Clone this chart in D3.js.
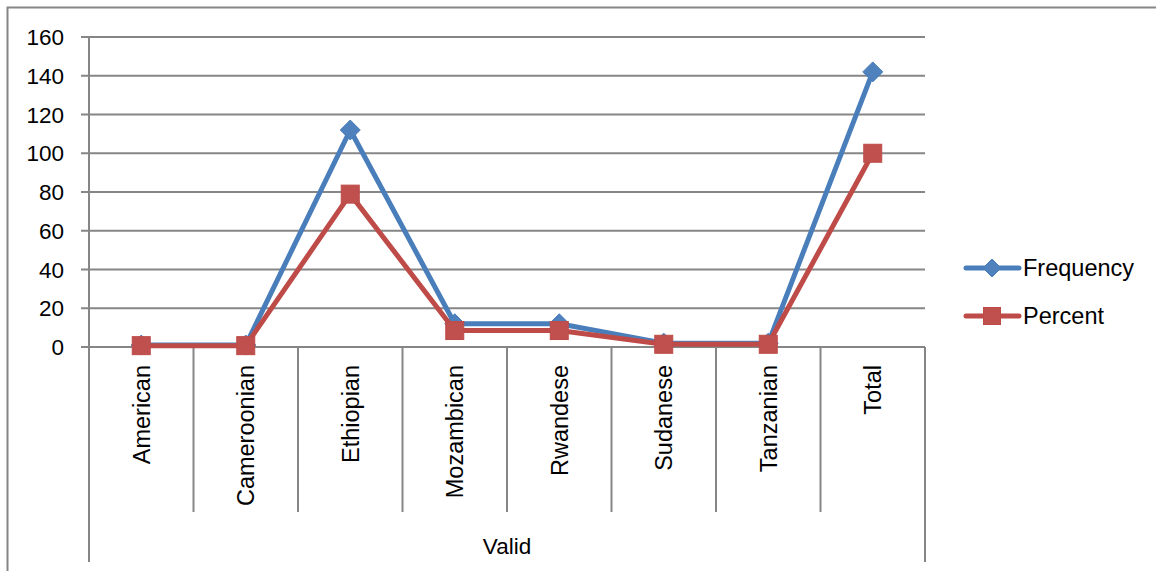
<!DOCTYPE html>
<html>
<head>
<meta charset="utf-8">
<script src="https://cdn.jsdelivr.net/npm/d3@7"></script>
<style>
  html, body { margin: 0; padding: 0; background: #fff; }
  svg { display: block; font-family: "Liberation Sans", Arial, sans-serif; }
</style>
</head>
<body>
<svg id="chart" width="1156" height="571"></svg>
<script>
// Nationality breakdown: counts and share of respondents
const categories = ["American", "Cameroonian", "Ethiopian", "Mozambican", "Rwandese", "Sudanese", "Tanzanian", "Total"];
const frequency = [1, 1, 112, 12, 12, 2, 2, 142];
const percent = [0.7, 0.7, 78.9, 8.5, 8.5, 1.4, 1.4, 100];
const yTicks = [0, 20, 40, 60, 80, 100, 120, 140, 160];
const groupLabel = "Valid";
const seriesNames = ["Frequency", "Percent"];

const svg = d3.select("#chart");
const gridColor = "#868686";
const blue = "#4A7EBB", blueFill = "#4F81BD";
const red = "#BE4B48", redFill = "#C0504D";

// frame of the chart area
svg.append("path")
  .attr("d", "M7.5,571 V7.5 H1156")
  .attr("fill", "none").attr("stroke", gridColor).attr("stroke-width", 2);

const plot = { left: 89, right: 925, top: 37, bottom: 347 };

const x = d3.scaleBand().domain(categories).range([plot.left, plot.right]);
const y = d3.scaleLinear().domain([0, 160]).range([plot.bottom, plot.top]);

// horizontal gridlines with small outside ticks
svg.append("g").selectAll("line").data(yTicks).join("line")
  .attr("x1", plot.left - 8).attr("x2", plot.right)
  .attr("y1", d => y(d)).attr("y2", d => y(d))
  .attr("stroke", gridColor).attr("stroke-width", 2);

// y axis line
svg.append("line")
  .attr("x1", plot.left).attr("x2", plot.left)
  .attr("y1", y(160)).attr("y2", plot.bottom)
  .attr("stroke", gridColor).attr("stroke-width", 2);

// y tick labels
svg.append("g").selectAll("text").data(yTicks).join("text")
  .attr("x", 64).attr("y", d => y(d))
  .attr("dy", "0.36em")
  .attr("text-anchor", "end")
  .attr("font-size", 22.5)
  .attr("fill", "#000")
  .text(d => d);

// category dividers below the axis
const dividers = categories.map(c => x(c)).concat([plot.right]);
svg.append("g").selectAll("line").data(dividers).join("line")
  .attr("x1", d => d).attr("x2", d => d)
  .attr("y1", plot.bottom).attr("y2", (d, i) => (i === 0 || i === dividers.length - 1) ? 562 : 512)
  .attr("stroke", gridColor).attr("stroke-width", 2);

// rotated category labels
svg.append("g").selectAll("text").data(categories).join("text")
  .attr("transform", d => `translate(${x(d) + x.bandwidth() / 2},365) rotate(-90)`)
  .attr("dy", "0.36em")
  .attr("text-anchor", "end")
  .attr("font-size", 23.5)
  .attr("fill", "#000")
  .text(d => d);

// group label
svg.append("text")
  .attr("x", (plot.left + plot.right) / 2).attr("y", 546)
  .attr("dy", "0.36em")
  .attr("text-anchor", "middle")
  .attr("font-size", 22.5)
  .attr("fill", "#000")
  .text(groupLabel);

const cx = c => x(c) + x.bandwidth() / 2;
const line = d3.line().x((d, i) => cx(categories[i])).y(d => y(d));

const diamond = (g, px, py, r) => g.append("path")
  .attr("d", `M${px},${py - r} L${px + r},${py} L${px},${py + r} L${px - r},${py} Z`)
  .attr("fill", blueFill).attr("stroke", blue).attr("stroke-width", 1);
const square = (g, px, py, s) => g.append("rect")
  .attr("x", px - s / 2).attr("y", py - s / 2).attr("width", s).attr("height", s)
  .attr("fill", redFill).attr("stroke", red).attr("stroke-width", 1);

// Frequency series
const gF = svg.append("g");
gF.append("path").datum(frequency)
  .attr("d", line).attr("fill", "none")
  .attr("stroke", blue).attr("stroke-width", 5).attr("stroke-linejoin", "round");
frequency.forEach((v, i) => diamond(gF, cx(categories[i]), y(v), 10));

// Percent series
const gP = svg.append("g");
gP.append("path").datum(percent)
  .attr("d", line).attr("fill", "none")
  .attr("stroke", red).attr("stroke-width", 5).attr("stroke-linejoin", "round");
percent.forEach((v, i) => square(gP, cx(categories[i]), y(v), 18));

// legend
const legend = svg.append("g");
const legendRows = [
  { name: seriesNames[0], color: blue, y: 268, mark: (g, px, py) => diamond(g, px, py, 9) },
  { name: seriesNames[1], color: red, y: 316, mark: (g, px, py) => square(g, px, py, 17) }
];
legendRows.forEach(r => {
  legend.append("line")
    .attr("x1", 966).attr("x2", 1019).attr("y1", r.y).attr("y2", r.y)
    .attr("stroke", r.color).attr("stroke-width", 5).attr("stroke-linecap", "round");
  r.mark(legend, 992, r.y);
  legend.append("text")
    .attr("x", 1023).attr("y", r.y)
    .attr("dy", "0.36em")
    .attr("font-size", 23.5)
    .attr("fill", "#000")
    .text(r.name);
});
</script>
</body>
</html>
